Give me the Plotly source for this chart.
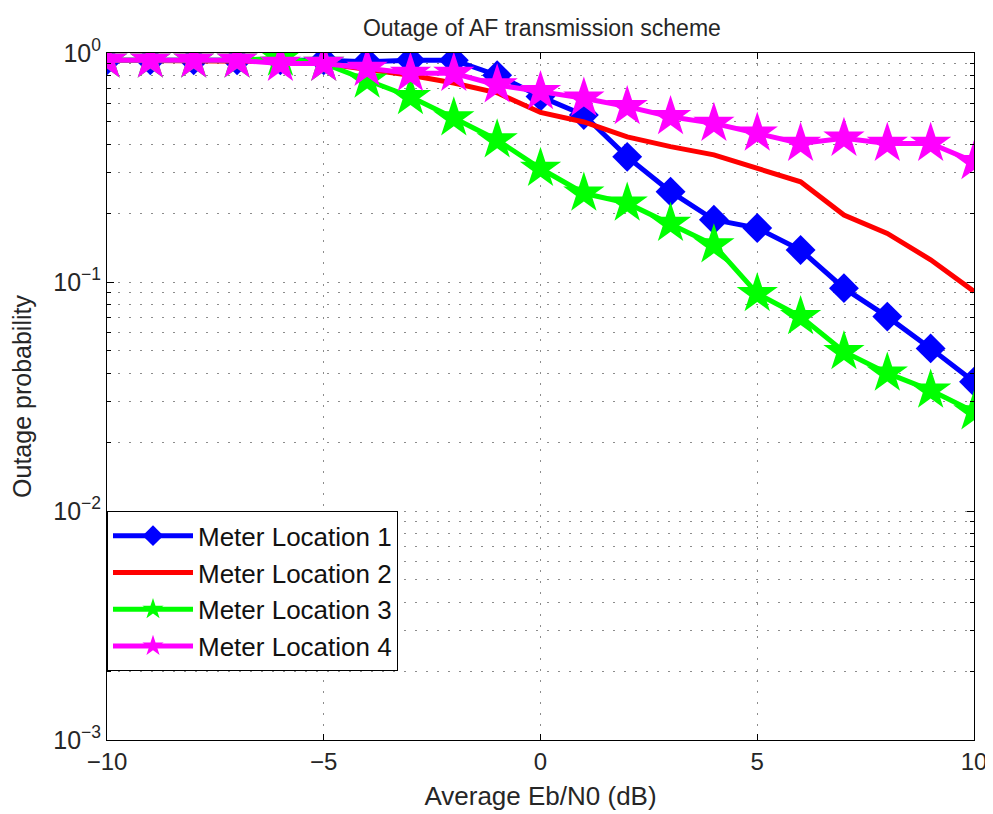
import plotly.graph_objects as go

x_db = [-10, -9, -8, -7, -6, -5, -4, -3, -2, -1, 0, 1, 2, 3, 4, 5, 6, 7, 8, 9, 10]

loc1 = [0.93, 0.93, 0.93, 0.93, 0.93, 0.93, 0.916, 0.93, 0.93, 0.80, 0.645, 0.536, 0.352, 0.248,
        0.187, 0.172, 0.138, 0.094, 0.0706, 0.0513, 0.0367]
loc2 = [0.93, 0.93, 0.93, 0.93, 0.92, 0.90, 0.85, 0.80, 0.74, 0.67, 0.55, 0.50, 0.43, 0.39,
        0.359, 0.313, 0.274, 0.196, 0.163, 0.125, 0.091]
loc3 = [0.93, 0.93, 0.93, 0.93, 0.95, 0.90, 0.76, 0.644, 0.52, 0.417, 0.313, 0.244, 0.221, 0.18,
        0.145, 0.089, 0.0706, 0.0496, 0.040, 0.0337, 0.0271]
loc4 = [0.93, 0.93, 0.93, 0.93, 0.90, 0.90, 0.857, 0.815, 0.815, 0.725, 0.678, 0.634, 0.583, 0.527,
        0.493, 0.446, 0.403, 0.424, 0.403, 0.403, 0.335]

names = ["Meter Location 1", "Meter Location 2", "Meter Location 3", "Meter Location 4"]

x_ticks = [-10, -5, 0, 5, 10]
x_ticktext = ["\u221210", "\u22125", "0", "5", "10"]
y_ticks = [1e-3, 1e-2, 1e-1, 1]
y_ticktext = ["10<sup>\u22123</sup>", "10<sup>\u22122</sup>", "10<sup>\u22121</sup>", "10<sup>0</sup>"]
y_minor = [m * d for d in [1e-3, 1e-2, 1e-1] for m in range(2, 10)]

FONT = "Liberation Sans, Arial, sans-serif"
TXT = "#262626"
GRID = "#8c8c8c"
DASH = "2px,9px"

fig = go.Figure()
fig.add_trace(go.Scatter(x=x_db, y=loc1, name=names[0], mode="lines+markers",
                         line=dict(color="#0000FF", width=5),
                         marker=dict(symbol="diamond", size=23, color="#0000FF")))
fig.add_trace(go.Scatter(x=x_db, y=loc2, name=names[1], mode="lines",
                         line=dict(color="#FF0000", width=5)))
fig.add_trace(go.Scatter(x=x_db, y=loc3, name=names[2], mode="lines+markers",
                         line=dict(color="#00FF00", width=5),
                         marker=dict(symbol="star", size=31, color="#00FF00")))
fig.add_trace(go.Scatter(x=x_db, y=loc4, name=names[3], mode="lines+markers",
                         line=dict(color="#FF00FF", width=5),
                         marker=dict(symbol="star", size=31, color="#FF00FF")))

fig.update_layout(
    width=985, height=806,
    margin=dict(l=99, r=19, t=45, b=74),
    paper_bgcolor="white", plot_bgcolor="white",
    font=dict(family=FONT, size=24, color=TXT),
    title=dict(text="Outage of AF transmission scheme", x=0.542, xanchor="center",
               y=0.975, yanchor="middle", font=dict(size=23, color=TXT)),
    showlegend=True,
    legend=dict(x=0.0, y=0.333, xanchor="left", yanchor="top",
                bordercolor="black", borderwidth=1, bgcolor="white",
                font=dict(size=26, color="#111111"), itemwidth=80, tracegroupgap=0),
)

fig.update_xaxes(range=[-10, 10], tickvals=x_ticks, ticktext=x_ticktext,
                 ticks="inside", ticklen=6, tickcolor="black",
                 tickfont=dict(size=24), automargin=False,
                 showline=True, linecolor="black", linewidth=1, mirror="ticks",
                 showgrid=True, gridcolor=GRID, griddash=DASH, gridwidth=1,
                 zeroline=False,
                 title=dict(text="Average Eb/N0 (dB)", standoff=13, font=dict(size=26)))

fig.update_yaxes(type="log", range=[-3, 0], tickvals=y_ticks, ticktext=y_ticktext,
                 ticks="inside", ticklen=7, tickcolor="black",
                 tickfont=dict(size=25), automargin=False,
                 showline=True, linecolor="black", linewidth=1, mirror="ticks",
                 showgrid=True, gridcolor=GRID, griddash=DASH, gridwidth=1,
                 minor=dict(tickmode="array", tickvals=y_minor, ticks="inside", ticklen=4,
                            tickcolor="black", showgrid=True,
                            gridcolor=GRID, griddash=DASH, gridwidth=1),
                 zeroline=False,
                 title=dict(text="Outage probability", standoff=15, font=dict(size=25)))

fig.write_html("out.html")
